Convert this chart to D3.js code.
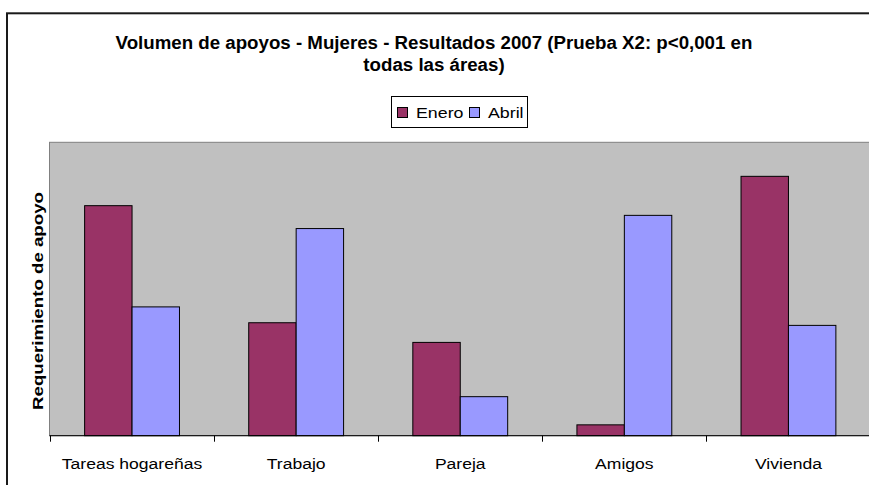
<!DOCTYPE html>
<meta charset="utf-8">
<style>
body { margin: 0; background: #fff; }
text { font-family: "Liberation Sans", Arial, sans-serif; fill: #000; }
.title { font-weight: bold; font-size: 18.7px; }
.ylab { font-weight: bold; font-size: 14px; }
.cat text { font-size: 15px; }
.leg { font-size: 14px; }
</style>
<body>
<script src="https://d3js.org/d3.v7.min.js"></script>
<script>
// data (relative units, 0-100)
var categories = ["Tareas hogareñas", "Trabajo", "Pareja", "Amigos", "Vivienda"];
var seriesNames = ["Enero", "Abril"];
var enero = [78.4, 38.5, 31.8, 3.7, 88.4];
var abril = [43.9, 70.6, 13.3, 75.1, 37.6];
var colors = {"Enero": "#993366", "Abril": "#9999FF"};

var W = 869, H = 485;
var plot = {left: 49.5, top: 142.3, right: 870.5, bottom: 435.7};

var svg = d3.select("body").append("svg")
    .attr("width", W)
    .attr("height", H);

// chart border
svg.append("rect")
    .attr("x", 7).attr("y", 13.3)
    .attr("width", 900).attr("height", 500)
    .attr("fill", "#fff")
    .attr("stroke", "#1a1a1a")
    .attr("stroke-width", 2);

// title
var title = svg.append("text")
    .attr("class", "title")
    .attr("text-anchor", "middle");
title.append("tspan").attr("x", 434).attr("y", 48.5)
    .text("Volumen de apoyos - Mujeres - Resultados 2007 (Prueba X2: p<0,001 en");
title.append("tspan").attr("x", 434).attr("y", 70.5)
    .text("todas las áreas)");

// scales
var x0 = d3.scaleBand().domain(categories).range([plot.left + 0.5, plot.right]);
var x1 = d3.scaleBand().domain(seriesNames).range([0, x0.bandwidth()])
    .paddingInner(0).paddingOuter(0.73);
var y = d3.scaleLinear().domain([0, 100]).range([plot.bottom, plot.top]);

// plot area
svg.append("rect")
    .attr("x", plot.left).attr("y", plot.top)
    .attr("width", plot.right - plot.left + 5)
    .attr("height", plot.bottom - plot.top)
    .attr("fill", "#c0c0c0")
    .attr("stroke", "#808080")
    .attr("stroke-width", 1);

var rows = categories.map(function(c, i) {
  return {cat: c, vals: [{s: "Enero", v: enero[i]}, {s: "Abril", v: abril[i]}]};
});

var groups = svg.selectAll(".grp")
    .data(rows)
  .enter().append("g")
    .attr("class", "grp")
    .attr("transform", function(d) { return "translate(" + x0(d.cat) + ",0)"; });

groups.selectAll("rect")
    .data(function(d) { return d.vals; })
  .enter().append("rect")
    .attr("x", function(d) { return x1(d.s); })
    .attr("y", function(d) { return y(d.v); })
    .attr("width", x1.bandwidth())
    .attr("height", function(d) { return y(0) - y(d.v); })
    .attr("fill", function(d) { return colors[d.s]; })
    .attr("stroke", "#000")
    .attr("stroke-width", 1);

// x axis: labels at centres, ticks at category edges
var xAxis = svg.append("g")
    .attr("class", "cat")
    .attr("transform", "translate(0," + plot.bottom + ")")
    .call(d3.axisBottom(x0).tickSize(0).tickPadding(23));
xAxis.select(".domain").remove();
xAxis.selectAll("text")
    .attr("font-family", null).attr("font-size", null)
    .attr("transform", "scale(1.17,1)");

svg.append("line")
    .attr("x1", plot.left).attr("x2", W + 2)
    .attr("y1", plot.bottom).attr("y2", plot.bottom)
    .attr("stroke", "#000").attr("stroke-width", 1);

svg.selectAll(".tk")
    .data(categories)
  .enter().append("line")
    .attr("class", "tk")
    .attr("x1", function(d) { return Math.round(x0(d)) + 0.5; })
    .attr("x2", function(d) { return Math.round(x0(d)) + 0.5; })
    .attr("y1", plot.bottom).attr("y2", plot.bottom + 6)
    .attr("stroke", "#000");

// y axis title
svg.append("text")
    .attr("class", "ylab")
    .attr("text-anchor", "middle")
    .attr("textLength", 218)
    .attr("lengthAdjust", "spacingAndGlyphs")
    .attr("transform", "translate(43,301) rotate(-90)")
    .text("Requerimiento de apoyo");

// legend
var leg = svg.append("g").attr("class", "legend");
leg.append("rect")
    .attr("x", 391.5).attr("y", 96.5)
    .attr("width", 136).attr("height", 31)
    .attr("fill", "#fff").attr("stroke", "#000");
var legX = {"Enero": 397.5, "Abril": 469.5};
var li = leg.selectAll(".li")
    .data(seriesNames)
  .enter().append("g")
    .attr("class", "li");
li.append("rect")
    .attr("x", function(d) { return legX[d]; })
    .attr("y", 107.5)
    .attr("width", 10).attr("height", 10)
    .attr("fill", function(d) { return colors[d]; })
    .attr("stroke", "#000");
li.append("text")
    .attr("class", "leg")
    .attr("transform", function(d) {
      return "translate(" + (legX[d] + 18.5) + ",118.3) scale(1.27,1)";
    })
    .text(function(d) { return d; });
</script>
</body>
